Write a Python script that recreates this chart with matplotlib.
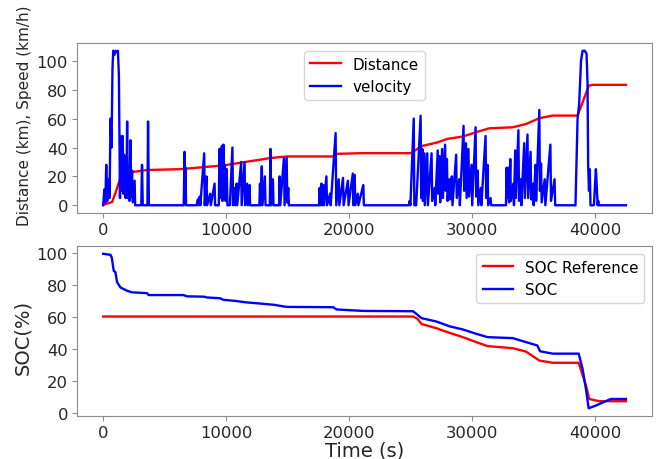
import matplotlib
matplotlib.use("Agg")
import matplotlib.pyplot as plt

# ---------------- data ----------------
vel_t = [0, 100, 180, 250, 330, 460, 520, 600, 680, 760, 820, 900, 1000, 1100, 1200, 1280, 1330, 1370,
         1400, 1450, 1520, 1590, 1640, 1700, 1780, 1830, 1900, 1950, 2010, 2080, 2130, 2220, 2280, 2350,
         2400, 2560, 2600, 3100, 3160, 3220, 3600, 3650, 3720, 6550, 6620, 6660, 6700, 6740, 7600, 7700,
         7760, 7850, 7900, 8215, 8260, 8400, 8450, 8700, 8750, 9060, 9100, 9400, 9460, 9520, 9650, 9700,
         9780, 9830, 9900, 9950, 10050, 10100, 10300, 10510, 10560, 10700, 10760, 10850, 10900, 11220,
         11260, 11500, 11540, 11700, 11760, 11900, 11950, 12700, 12750, 12800, 12900, 12950, 13150, 13200,
         13550, 13600, 13650, 13800, 13850, 14300, 14350, 14400, 14700, 14750, 14920, 14970, 15050, 15100,
         17550, 17600, 17650, 17750, 17800, 17900, 17950, 18150, 18200, 18450, 18500, 18900, 18950, 19150,
         19200, 19500, 19550, 19900, 19950, 20300, 20350, 20450, 20500, 20700, 20750, 21150, 21200, 24850,
         24920, 24980, 25250, 25300, 25450, 25810, 25860, 25950, 26000, 26100, 26150, 26350, 26400, 26700,
         26750, 26950, 27000, 27200, 27250, 27350, 27400, 27560, 27620, 27800, 27850, 27950, 28000, 28150,
         28200, 28350, 28400, 28700, 28750, 28950, 29000, 29300, 29350, 29500, 29550, 29700, 29750, 29950,
         30000, 30280, 30330, 30450, 30500, 30700, 30750, 31090, 31140, 31250, 31300, 31500, 31550, 32750,
         32800, 32850, 32950, 33000, 33100, 33150, 33350, 33400, 33500, 33550, 33760, 33810, 33950, 34000,
         34230, 34280, 34500, 34550, 34750, 34800, 34950, 35000, 35150, 35200, 35460, 35510, 35600, 35650,
         35900, 35950, 36360, 36410, 36700, 36750, 38400, 38570, 38700, 38850, 38980, 39150, 39300, 39380,
         39430, 39500, 39560, 39620, 39900, 40060, 40120, 40200, 40250, 40300, 42500]
vel_v = [0, 11, 2, 28, 3, 18, 5, 60, 40, 95, 107, 104, 107, 106, 107, 90, 40, 5,
         48, 10, 30, 48, 8, 35, 30, 5, 20, 58, 5, 18, 3, 45, 6, 24,
         2, 17, 0, 0, 28, 0, 0, 58, 0, 0, 37, 5, 26, 0, 0, 4,
         0, 6, 0, 36, 0, 20, 0, 8, 0, 15, 0, 0, 39, 5, 41, 3,
         42, 10, 28, 3, 25, 0, 0, 40, 0, 12, 0, 15, 0, 30,
         0, 30, 0, 15, 0, 14, 0, 0, 15, 0, 27, 0, 20, 0,
         0, 39, 0, 18, 0, 0, 20, 0, 33, 0, 33, 2, 12, 0,
         0, 12, 0, 15, 0, 14, 0, 20, 0, 8, 0, 50, 0, 18,
         0, 19, 0, 17, 0, 22, 0, 21, 0, 8, 0, 14, 0, 0,
         3, 0, 60, 0, 0, 62, 5, 39, 3, 36, 0, 36, 0, 36,
         3, 12, 0, 38, 8, 34, 2, 39, 5, 42, 10, 32, 3, 18,
         4, 20, 0, 35, 5, 18, 0, 55, 10, 43, 5, 39, 6, 28,
         0, 54, 6, 24, 0, 12, 0, 48, 5, 28, 0, 5, 0, 0,
         26, 5, 26, 2, 32, 3, 15, 0, 38, 5, 52, 3, 18, 0,
         43, 5, 49, 5, 37, 4, 15, 0, 28, 3, 66, 10, 29, 2,
         18, 0, 42, 3, 18, 0, 0, 60, 70, 100, 107, 107, 105, 85,
         28, 10, 25, 0, 0, 25, 15, 0, 3, 0, 0]

dist_t = [0, 730, 1100, 1400, 2350, 3570, 6280, 9780, 13600, 14920, 18700, 19000, 21200, 25050,
          25880, 27080, 28000, 29250, 30320, 31400, 33300, 34400, 35460, 36550, 38570, 39490, 39800, 42500]
dist_v = [0.3, 2.3, 11, 19, 23, 24.4, 25, 27.6, 32.7, 33.8, 33.8, 35.6, 36.1, 36.1,
          41, 43.3, 46, 47.6, 50.6, 53.3, 54, 56.3, 60.3, 62.1, 62.1, 82.8, 83.4, 83.4]

soc_t = [0, 600, 700, 860, 1000, 1130, 1400, 1650, 1950, 2350, 3560, 3700, 6540, 6810, 8200, 8430,
         9510, 9780, 10700, 11540, 12760, 13900, 14920, 18700, 18980, 21140, 25190, 25460, 25870, 27080,
         28160, 29250, 30330, 31270, 33300, 34380, 35300, 35520, 36550, 38660, 38980, 39250, 39470,
         40060, 41270, 42500]
soc_v = [99.6, 98.9, 97.2, 89, 88, 81.9, 78.6, 77.6, 76.5, 75.5, 75, 73.8, 73.8, 73, 72.8, 72.3,
         71.8, 70.8, 70.2, 69.3, 68.5, 67.7, 66.4, 66.2, 64.8, 63.9, 63.7, 62.1, 59.4, 57.3,
         54.3, 52.3, 49.6, 47.5, 46.9, 44.4, 42.3, 38.7, 37.2, 37.2, 27.6, 15.2, 3.1,
         4.8, 8.9, 8.9]

socref_t = [0, 25190, 25550, 25870, 27080, 28160, 29250, 30330, 31270, 33300, 34380, 35460, 36550,
            38660, 39250, 39520, 40330, 42500]
socref_v = [60.4, 60.4, 59, 55.8, 53.1, 50.2, 47.5, 44.4, 41.9, 40.6, 38.5, 32.9, 31.5,
            31.5, 17.3, 8.9, 7.5, 7.5]

x_ticks = [0, 10000, 20000, 30000, 40000]
y_ticks = [0, 20, 40, 60, 80, 100]

# ---------------- figure ----------------
fig = plt.figure(figsize=(6.72, 4.60), dpi=100)
ax1 = fig.add_axes([0.1146, 0.5348, 0.8557, 0.3695])
ax2 = fig.add_axes([0.1146, 0.0935, 0.8557, 0.3695])

spine_col = '#8c8c8c'
txt_col = '#262626'

ax1.plot(dist_t, dist_v, color='red', lw=1.7, label='Distance')
ax1.plot(vel_t, vel_v, color='blue', lw=1.7, label='velocity')
ax2.plot(socref_t, socref_v, color='red', lw=1.7, label='SOC Reference')
ax2.plot(soc_t, soc_v, color='blue', lw=1.7, label='SOC')

for ax in (ax1, ax2):
    ax.set_xticks(x_ticks)
    ax.set_yticks(y_ticks)
    ax.tick_params(labelsize=11.8, colors=spine_col, labelcolor=txt_col, pad=3)
    for s in ax.spines.values():
        s.set_color(spine_col)

ax1.legend(loc='upper center', fontsize=10.9)
ax2.legend(loc='upper right', fontsize=10.9)

ax1.set_ylabel('Distance (km), Speed (km/h)', fontsize=11, color=txt_col)
ax1.yaxis.set_label_coords(-0.078, 0.576)
ax2.set_ylabel('SOC(%)', fontsize=14, color=txt_col)
ax2.yaxis.set_label_coords(-0.078, 0.47)
ax2.set_xlabel('Time (s)', fontsize=14, color=txt_col)
ax2.xaxis.set_label_coords(0.5, -0.145)

fig.savefig('out.png', dpi=100)
